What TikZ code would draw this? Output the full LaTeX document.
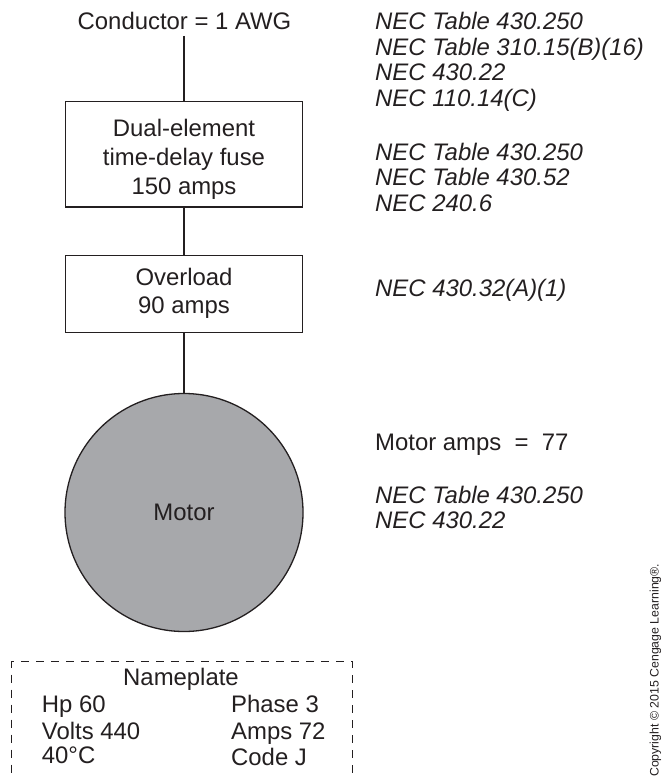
\documentclass[tikz,border=0pt]{standalone}
\usepackage{fontspec}
\setmainfont{Liberation Sans}
\definecolor{ink}{RGB}{35,31,32}
\definecolor{motorgray}{RGB}{167,168,171}
\tikzset{
  txt/.style={font=\fontsize{23.9}{26}\selectfont, text=ink, inner sep=0pt, anchor=base},
  ref/.style={txt, font=\fontsize{23.9}{26}\selectfont\itshape, anchor=base west},
  lft/.style={txt, anchor=base west},
  box/.style={draw=ink, line width=1.3pt, rectangle, minimum width=236.5pt, inner sep=0pt},
  wire/.style={draw=ink, line width=1.3pt},
  plate/.style={draw=ink, line width=1.3pt, dash pattern=on 8pt off 7pt, rectangle, inner sep=0pt}
}
\begin{document}
\begin{tikzpicture}[x=1pt,y=-1pt]
\useasboundingbox (0,0) rectangle (663,776);
\clip (0,0) rectangle (663,776);
% source conductor
\node[txt] (cond) at (184.5,30) {Conductor = 1 AWG};
\coordinate (condb) at (184,36);
% fuse box
\node[box, minimum height=105.3pt] (fuse) at (184,154.35) {};
\node[txt] (fuse1) at (184,136.7) {Dual-element};
\node[txt] (fuse2) at (184,165) {time-delay fuse};
\node[txt] (fuse3) at (184,194) {150 amps};
% overload box
\node[box, minimum height=77.4pt] (ovl) at (184,294) {};
\node[txt] (ovl1) at (184,285.7) {Overload};
\node[txt] (ovl2) at (184,313) {90 amps};
% motor
\node[circle, draw=ink, line width=1.3pt, fill=motorgray, minimum size=238pt, inner sep=0pt] (motor) at (184,512.5) {};
\node[txt] (motort) at (184,520.3) {Motor};
% connectors
\draw[wire] (condb) -- (fuse.north);
\draw[wire] (fuse.south) -- (ovl.north);
\draw[wire] (ovl.south) -- (motor.north);
% references
\node[ref] (r1) at (375,30) {NEC Table 430.250};
\node[ref] (r2) at (375,55.3) {NEC Table 310.15(B)(16)};
\node[ref] (r3) at (375,80.6) {NEC 430.22};
\node[ref] (r4) at (375,106) {NEC 110.14(C)};
\node[ref] (r5) at (375,160) {NEC Table 430.250};
\node[ref] (r6) at (375,185.7) {NEC Table 430.52};
\node[ref] (r7) at (375,211.5) {NEC 240.6};
\node[ref] (r8) at (375,296.7) {NEC 430.32(A)(1)};
\node[lft] (amps) at (375,450) {Motor amps\ \ =\ \ 77};
\node[ref] (r9) at (375,503.3) {NEC Table 430.250};
\node[ref] (r10) at (375,528.3) {NEC 430.22};
% nameplate
\node[plate, minimum width=341pt, minimum height=130pt] (np) at (182.1,726.7) {};
\node[txt] (npt) at (181,685) {Nameplate};
\node[lft] (np1) at (41.7,712.7) {Hp 60};
\node[lft] (np2) at (41.7,739.3) {Volts 440};
\node[lft] (np3) at (41.7,763.5) {40°C};
\node[lft] (np4) at (231,712.7) {Phase 3};
\node[lft] (np5) at (231,739.3) {Amps 72};
\node[lft] (np6) at (231,765) {Code J};
% copyright
\node[rotate=90, anchor=base west, inner sep=0pt, text=ink,
      font=\fontsize{12.3}{14}\selectfont] (copy) at (658.5,777) {Copyright © 2015 Cengage Learning®.};
\end{tikzpicture}
\end{document}
